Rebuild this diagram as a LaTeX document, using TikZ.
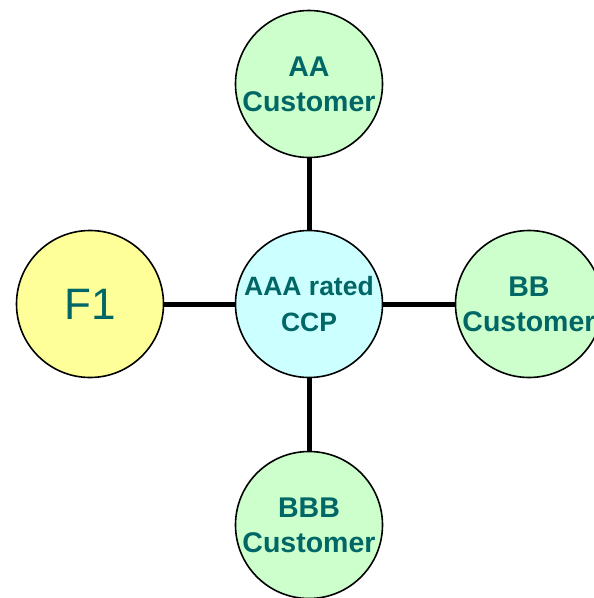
\documentclass[tikz,border=0pt]{standalone}
\usepackage{fontspec}
\setmainfont{Liberation Sans}
\usepackage{xcolor}
\usetikzlibrary{positioning}
\definecolor{tealtext}{HTML}{006666}
\definecolor{custgreen}{HTML}{CCFFCC}
\definecolor{ccpcyan}{HTML}{CCFFFF}
\definecolor{fundyellow}{HTML}{FFFF99}
\tikzset{
	% The central counterparty
	ccp/.style={
		draw=black,line width=1.6pt,circle,fill=ccpcyan,minimum size=147pt,inner sep=0pt,
		align=center,text=tealtext,font=\fontsize{26.5}{36}\selectfont\bfseries
	},
	% The rated customers
	customer/.style={
		draw=black,line width=1.6pt,circle,fill=custgreen,minimum size=147pt,inner sep=0pt,
		align=center,text=tealtext,font=\fontsize{28.5}{35}\selectfont\bfseries
	},
	% The fund
	fund/.style={
		draw=black,line width=1.6pt,circle,fill=fundyellow,minimum size=147pt,inner sep=0pt,
		text=tealtext,font=\fontsize{44}{52}\selectfont
	},
	% The links to the counterparty
	link/.style={
		draw=black,line width=5pt
	},
}
\begin{document}
\begin{tikzpicture}[x=1pt,y=-1pt]
		\useasboundingbox (0,0) rectangle (594,598);
		\node [ccp] (CCP) at (309,304) {AAA rated\\CCP};
		\node [customer] (AA) at (309,84) {AA\\Customer};
		\node [customer] (BB) at (529,304) {BB\\Customer};
		\node [customer] (BBB) at (309,525) {BBB\\Customer};
		\node [fund] (F1) at (90,304) {F1};

		\draw [link] (CCP) -- (AA);
		\draw [link] (CCP) -- (BB);
		\draw [link] (CCP) -- (BBB);
		\draw [link] (CCP) -- (F1);
	\end{tikzpicture}
\end{document}
